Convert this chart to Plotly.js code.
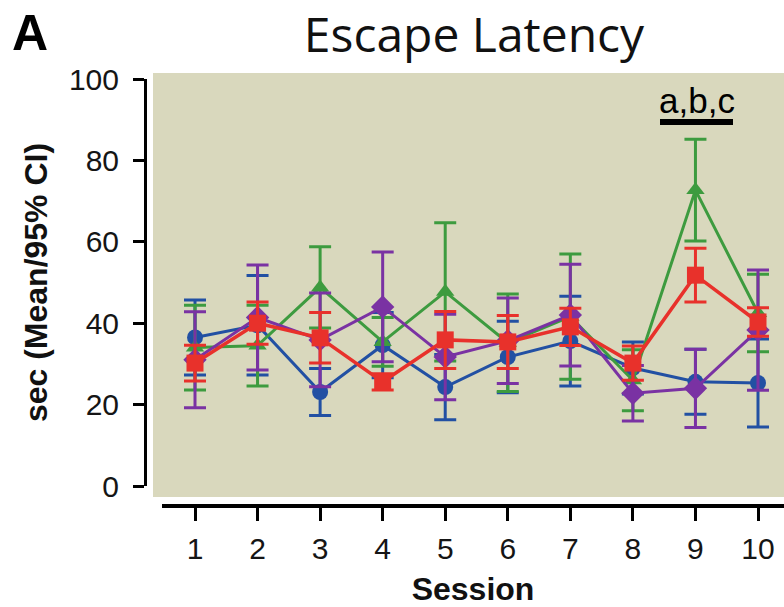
<!DOCTYPE html>
<html>
<head>
<meta charset="utf-8">
<script src="https://cdn.plot.ly/plotly-3.0.1.min.js"></script>
<style>html,body{margin:0;padding:0;background:#fff;}#chart{width:784px;height:607px;}</style>
</head>
<body>
<div id="chart"></div>
<script>
// ---- data ----
const sessions = [1, 2, 3, 4, 5, 6, 7, 8, 9, 10];
const tickLabels = ["1", "2", "3", "4", "5", "6", "7", "8", "9", "10"];
const yTicks = [0, 20, 40, 60, 80, 100];

const blueMean  = [36.5, 39.5, 23.1, 34.6, 24.3, 31.7, 35.6, 29.0, 25.6, 25.3];
const blueCI    = [9.2, 12.2, 5.8, 8.0, 8.0, 8.8, 11.0, 6.4, 8.0, 10.8];
const greenMean = [34.0, 34.5, 48.8, 35.4, 47.7, 35.2, 41.6, 26.0, 72.7, 42.5];
const greenCI   = [10.4, 9.9, 10.0, 6.0, 17.0, 12.0, 15.4, 7.5, 12.5, 9.5];
const purpleMean= [31.0, 41.4, 35.9, 44.0, 31.7, 35.7, 42.0, 22.8, 24.0, 38.3];
const purpleCI  = [11.8, 12.9, 11.5, 13.5, 10.5, 10.5, 12.5, 6.8, 9.6, 14.8];
const redMean   = [30.2, 40.0, 36.4, 25.6, 35.9, 35.4, 39.1, 30.2, 51.8, 40.3];
const redCI     = [4.4, 5.2, 6.2, 2.0, 7.0, 6.5, 4.6, 4.2, 6.6, 3.5];

// ---- geometry helpers (pixel -> paper) ----
const W = 784, H = 607;
const mL = 145, mR = 0, mT = 79, mB = 101;
const pw = W - mL - mR, ph = H - mT - mB;
const px = p => (p - mL) / pw;
const py = q => (H - mB - q) / ph;

function series(y, err, color, symbol, size, lw) {
  return {
    x: sessions, y: y, type: 'scatter', mode: 'lines+markers',
    line: {color: color, width: lw},
    marker: {symbol: symbol, size: size, color: color},
    error_y: {type: 'data', array: err, visible: true, color: color, thickness: 3, width: 11},
    cliponaxis: false, hoverinfo: 'x+y'
  };
}

const BLUE = '#2250a3', GREEN = '#3d9b3f', PURPLE = '#7a32a3', RED = '#e8312b';

const data = [
  series(blueMean, blueCI, BLUE, 'circle', 16, 3),
  series(greenMean, greenCI, GREEN, 'triangle-up', 16, 3),
  series(purpleMean, purpleCI, PURPLE, 'diamond', 18, 3),
  series(redMean, redCI, RED, 'square', 17, 3.5)
];

const tickFont = {family: 'Liberation Sans, Arial, sans-serif', size: 30, color: '#151515'};

const layout = {
  width: W, height: H,
  margin: {l: mL, r: mR, t: mT, b: mB, pad: 0},
  paper_bgcolor: '#ffffff',
  plot_bgcolor: 'rgba(0,0,0,0)',
  showlegend: false,
  title: {
    text: 'Escape Latency',
    font: {family: 'Open Sans, sans-serif', size: 48, color: '#111'},
    x: 474 / W, xanchor: 'center',
    y: 1 - 35 / H, yanchor: 'middle'
  },
  xaxis: {
    range: [0.4725, 10.4156],
    domain: [px(162), 1],
    anchor: 'free', position: 0,
    tickvals: sessions, ticktext: tickLabels,
    showline: true, linecolor: '#000', linewidth: 4,
    ticks: 'outside', ticklen: 13, tickwidth: 3, tickcolor: '#000',
    ticklabelstandoff: 2,
    showgrid: false, zeroline: false,
    tickfont: tickFont,
    title: {text: 'Session', font: {family: 'Liberation Sans, Arial, sans-serif', size: 32, color: '#111', weight: 'bold'}, standoff: 14}
  },
  yaxis: {
    range: [0, 100],
    domain: [py(486), 1],
    anchor: 'free', position: 0,
    tickvals: yTicks,
    showline: true, linecolor: '#000', linewidth: 3,
    ticks: 'outside', ticklen: 11, tickwidth: 3, tickcolor: '#000',
    ticklabelstandoff: 8,
    showgrid: false, zeroline: false,
    tickfont: tickFont,
    title: {text: 'sec (Mean/95% CI)', font: {family: 'Liberation Sans, Arial, sans-serif', size: 32, color: '#111', weight: 'bold'}, standoff: 10}
  },
  shapes: [
    {type: 'rect', xref: 'paper', yref: 'paper', layer: 'below',
     x0: px(153), x1: px(790), y0: py(497), y1: py(73),
     fillcolor: '#d9d8bd', line: {width: 0}},
    {type: 'line', xref: 'paper', yref: 'paper',
     x0: px(660), x1: px(733), y0: py(122), y1: py(122),
     line: {color: '#000', width: 6}}
  ],
  annotations: [
    {text: '<b>A</b>', xref: 'paper', yref: 'paper', x: px(10), y: py(33),
     xanchor: 'left', yanchor: 'middle', showarrow: false,
     font: {family: 'Liberation Sans, Arial, sans-serif', size: 50, color: '#000'}},
    {text: 'a,b,c', xref: 'paper', yref: 'paper', x: px(697), y: py(101),
     xanchor: 'center', yanchor: 'middle', showarrow: false,
     font: {family: 'Liberation Sans, Arial, sans-serif', size: 35, color: '#000'}}
  ]
};

Plotly.newPlot('chart', data, layout, {staticPlot: true, displayModeBar: false});
</script>
</body>
</html>
